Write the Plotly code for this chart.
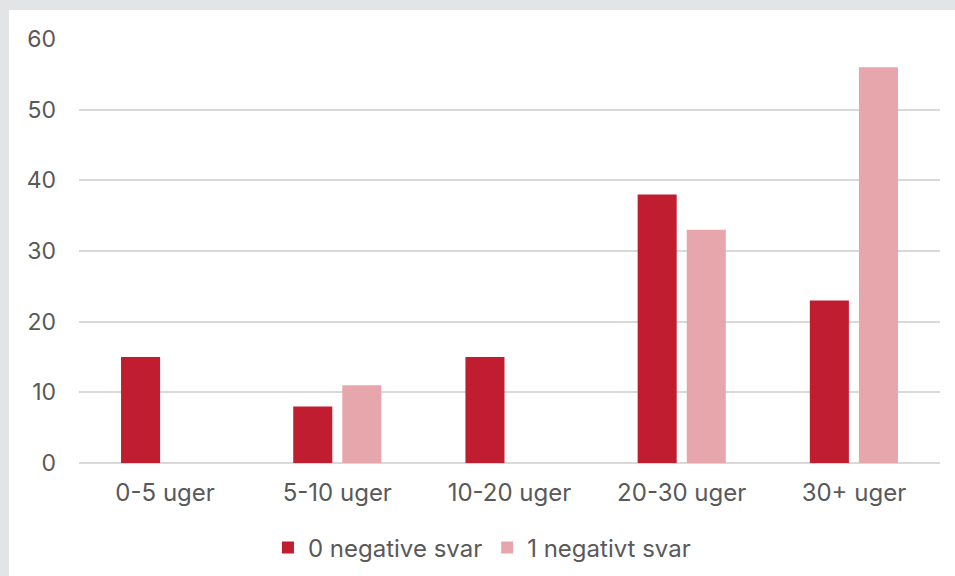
import plotly.graph_objects as go

categories = ['0-5 uger', '5-10 uger', '10-20 uger', '20-30 uger', '30+ uger']
zero_negative = [15, 8, 15, 38, 23]
one_negative = [0, 11, 0, 33, 56]
y_ticks = [0, 10, 20, 30, 40, 50, 60]

TEXT = '#595959'
GRID = '#d9d9d9'

fig = go.Figure()
fig.add_trace(go.Bar(x=categories, y=zero_negative, name='0 negative svar',
                     marker=dict(color='#c01e30', line=dict(width=0))))
fig.add_trace(go.Bar(x=categories, y=one_negative, name='1 negativt svar',
                     marker=dict(color='#e7a6ab', line=dict(width=0))))

# white card on a grey page, like the original screenshot
fig.add_shape(type='rect', xref='paper', yref='paper', layer='below',
              x0=-0.0813, x1=1.05, y0=-0.35, y1=1.0684,
              fillcolor='#ffffff', line=dict(width=0))

fig.update_layout(
    width=955, height=576,
    barmode='group', bargap=0.43, bargroupgap=0.204,
    font=dict(family='Inter, sans-serif', size=24, color=TEXT),
    paper_bgcolor='#e3e4e6',
    plot_bgcolor='#ffffff',
    margin=dict(l=79, r=15, t=39, b=113, autoexpand=False),
    xaxis=dict(showgrid=False, ticks='', showline=False, zeroline=False,
               tickfont=dict(size=24, color=TEXT), ticklabelstandoff=13),
    yaxis=dict(range=[0, 60], tickvals=y_ticks, showgrid=True, gridcolor=GRID,
               gridwidth=1.5, zeroline=True, zerolinecolor=GRID, zerolinewidth=1.5,
               showline=False, ticks='', tickfont=dict(size=23, color=TEXT),
               ticklabelstandoff=22),
    legend=dict(orientation='h', x=0.468, xanchor='center',
                yref='container', y=0.049, yanchor='middle',
                font=dict(size=24, color=TEXT), bgcolor='rgba(0,0,0,0)',
                itemwidth=30),
    showlegend=True,
)

fig.write_html('out.html', config={'displayModeBar': False},
               post_script="document.body.style.margin='0';")
